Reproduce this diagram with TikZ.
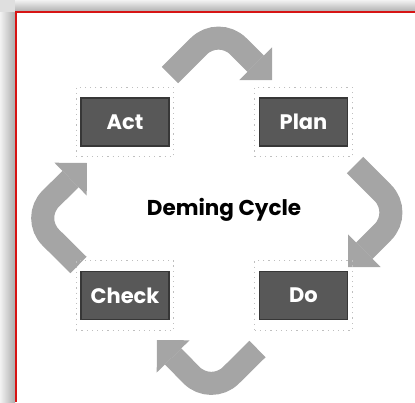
\documentclass[tikz,border=0pt]{standalone}
\usepackage{fontspec}
\setmainfont{Poppins}
\usetikzlibrary{arrows.meta,positioning,fit}

\definecolor{boxgray}{RGB}{88,88,88}
\definecolor{boxedge}{RGB}{55,55,55}
\definecolor{arrowgray}{RGB}{165,165,165}
\definecolor{framered}{RGB}{215,20,20}

\tikzset{
  stage/.style={draw=boxedge, line width=1.5pt, fill=boxgray, text=white,
    font=\bfseries\fontsize{21}{21}\selectfont,
    minimum width=88pt, minimum height=48pt, inner sep=0pt},
  halo/.style={draw=gray!50, line width=1.2pt, dash pattern=on 1.2pt off 4pt,
    inner xsep=4pt, inner ysep=10pt},
  turnarrow/.style={draw=arrowgray, line width=23pt, rounded corners=28pt,
    -{Triangle[length=23pt,width=46pt,line width=0pt]}},
  cyclelabel/.style={font=\bfseries\fontsize{21.5}{21.5}\selectfont}
}

\begin{document}
\begin{tikzpicture}[x=1pt,y=-1pt]
  \useasboundingbox (0,0) rectangle (415,402);
  % shadow and frame
  \fill[gray!25] (0,0) rectangle (15,12);
  \shade[top color=gray!10, bottom color=gray!65] (15,0) rectangle (415,12);
  \shade[left color=gray!10, right color=gray!65] (0,12) rectangle (15,402);
  \draw[framered, line width=2pt] (15.5,402) -- (15.5,12) -- (415,12);

  % the four curved arrows
  \draw[turnarrow] (170,75) -- (218.5,26.5) -- (272,80);
  \draw[turnarrow] (355,165) -- (402.5,212.5) -- (348,267);
  \draw[turnarrow] (257.5,349) -- (211,395) -- (157,340);
  \draw[turnarrow] (78.5,265) -- (31,218) -- (87,163);

  % stages
  \node[stage] (act) at (125,122) {Act};
  \node[stage, right=89pt of act] (plan) {Plan};
  \node[stage, below=124pt of act] (check) {Check};
  \node[stage, below=124pt of plan] (do) {Do};

  \node[halo, fit=(act)] {};
  \node[halo, fit=(plan)] {};
  \node[halo, fit=(check)] {};
  \node[halo, fit=(do)] {};

  \node[cyclelabel] (cycle) at (224,210) {Deming Cycle};
\end{tikzpicture}
\end{document}
